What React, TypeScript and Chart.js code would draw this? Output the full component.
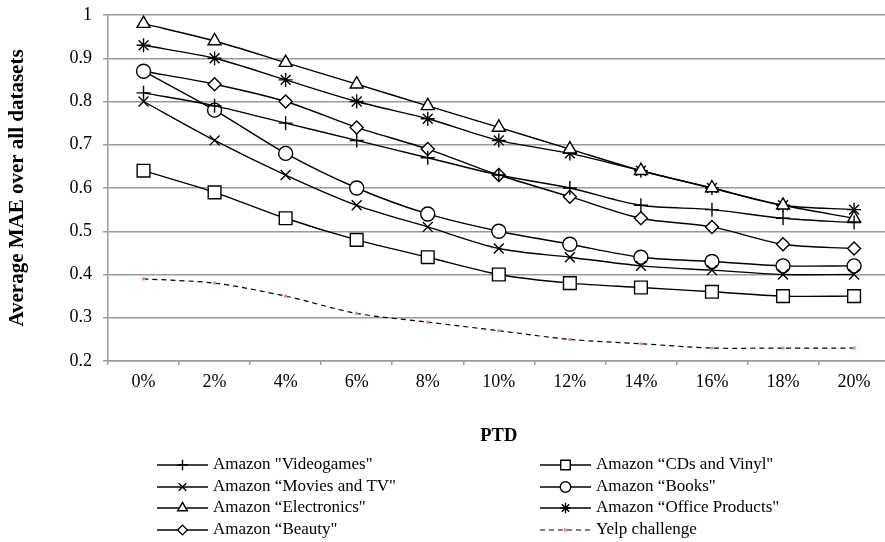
import React, { useEffect, useRef } from 'react';
import { Chart, registerables } from 'chart.js';
import { drawPoint } from 'chart.js/helpers';

Chart.register(...registerables);

const categories = ['0%', '2%', '4%', '6%', '8%', '10%', '12%', '14%', '16%', '18%', '20%'];
const videogames = [0.82, 0.79, 0.75, 0.71, 0.67, 0.63, 0.60, 0.56, 0.55, 0.53, 0.52];
const cdsVinyl = [0.64, 0.59, 0.53, 0.48, 0.44, 0.40, 0.38, 0.37, 0.36, 0.35, 0.35];
const moviesTv = [0.80, 0.71, 0.63, 0.56, 0.51, 0.46, 0.44, 0.42, 0.41, 0.40, 0.40];
const books = [0.87, 0.78, 0.68, 0.60, 0.54, 0.50, 0.47, 0.44, 0.43, 0.42, 0.42];
const electronics = [0.98, 0.94, 0.89, 0.84, 0.79, 0.74, 0.69, 0.64, 0.60, 0.56, 0.53];
const officeProducts = [0.93, 0.90, 0.85, 0.80, 0.76, 0.71, 0.68, 0.64, 0.60, 0.56, 0.55];
const beauty = [0.87, 0.84, 0.80, 0.74, 0.69, 0.63, 0.58, 0.53, 0.51, 0.47, 0.46];
const yelp = [0.39, 0.38, 0.35, 0.31, 0.29, 0.27, 0.25, 0.24, 0.23, 0.23, 0.23];

const yMin = 0.2;
const yMax = 1;
const yStep = 0.1;

const FONT = '"Liberation Serif", "Times New Roman", serif';

function amazonSeries(label: string, data: number[], pointStyle: string, radius: number) {
  return {
    label,
    data,
    borderColor: '#000',
    borderWidth: 1.4,
    pointStyle,
    pointRadius: radius,
    pointBorderColor: '#000',
    pointBackgroundColor: '#fff',
    pointBorderWidth: 1.4,
    tension: 0.3,
  };
}

const legendPlugin = {
  id: 'customLegend',
  afterDraw(chart: any) {
    const ctx = chart.ctx;
    const cols = [157, 540];
    const rows = [465, 487, 508, 530];
    ctx.save();
    chart.data.datasets.forEach((ds: any, i: number) => {
      const x0 = cols[i % 2];
      const y = rows[Math.floor(i / 2)];
      ctx.save();
      ctx.strokeStyle = '#000';
      ctx.lineWidth = ds.borderWidth;
      ctx.setLineDash(ds.borderDash || []);
      ctx.beginPath();
      ctx.moveTo(x0, y);
      ctx.lineTo(x0 + 51, y);
      ctx.stroke();
      ctx.restore();
      ctx.save();
      ctx.setLineDash([]);
      ctx.fillStyle = ds.pointBackgroundColor;
      ctx.strokeStyle = ds.pointBorderColor;
      ctx.lineWidth = ds.pointBorderWidth;
      const r = ds.borderDash ? ds.pointRadius : ds.pointRadius * 0.75;
      drawPoint(ctx, { pointStyle: ds.pointStyle, rotation: 0, borderWidth: ds.pointBorderWidth, radius: r }, x0 + 25.5, y);
      ctx.restore();
      ctx.fillStyle = '#000';
      ctx.font = '17px ' + FONT;
      ctx.textBaseline = 'middle';
      ctx.textAlign = 'left';
      ctx.fillText(ds.label, x0 + 56, y);
    });
    ctx.restore();
  },
};

export default function App() {
  const canvasRef = useRef<HTMLCanvasElement | null>(null);

  useEffect(() => {
    const canvas = canvasRef.current;
    if (!canvas) return;
    const chart = new Chart(canvas, {
      type: 'line',
      data: {
        labels: categories,
        datasets: [
          amazonSeries('Amazon "Videogames"', videogames, 'cross', 7),
          amazonSeries('Amazon \u201cCDs and Vinyl"', cdsVinyl, 'rect', 9),
          amazonSeries('Amazon \u201cMovies and TV"', moviesTv, 'crossRot', 7),
          amazonSeries('Amazon \u201cBooks"', books, 'circle', 7),
          amazonSeries('Amazon \u201cElectronics"', electronics, 'triangle', 7.5),
          amazonSeries('Amazon \u201cOffice Products"', officeProducts, 'star', 7),
          amazonSeries('Amazon \u201cBeauty"', beauty, 'rectRot', 6.5),
          {
            label: 'Yelp challenge',
            data: yelp,
            borderColor: '#000',
            borderWidth: 1.2,
            borderDash: [5, 4],
            pointStyle: 'rect',
            pointRadius: 2.2,
            pointBorderWidth: 0,
            pointBorderColor: '#d99694',
            pointBackgroundColor: '#d99694',
            tension: 0.3,
          } as any,
        ],
      },
      options: {
        animation: false,
        responsive: false,
        maintainAspectRatio: false,
        layout: { padding: { top: 15, right: 0, bottom: 91, left: 0 } },
        plugins: {
          legend: { display: false },
          tooltip: { enabled: false },
        },
        scales: {
          x: {
            type: 'category',
            offset: true,
            grid: {
              offset: true,
              drawOnChartArea: false,
              drawTicks: true,
              tickLength: 4,
              color: '#9a9a9a',
              lineWidth: 1.5,
            },
            border: { display: true, color: '#9a9a9a', width: 1.5 },
            ticks: {
              color: '#000',
              font: { family: FONT, size: 18 },
              padding: 6,
              maxRotation: 0,
            },
            title: {
              display: true,
              text: 'PTD',
              color: '#000',
              font: { family: FONT, size: 18.5, weight: 'bold' },
              padding: { top: 0, bottom: 4 },
            },
            afterFit: (scale: any) => {
              scale.height = 90;
              scale.paddingLeft = 0;
              scale.paddingRight = 0;
            },
          },
          y: {
            min: yMin,
            max: yMax,
            grid: {
              color: '#9a9a9a',
              lineWidth: 1.5,
              drawTicks: true,
              tickLength: 5,
            },
            border: { display: true, color: '#9a9a9a', width: 1.5 },
            ticks: {
              stepSize: yStep,
              color: '#000',
              font: { family: FONT, size: 18 },
              padding: 11,
              callback: (v: any) => String(Number(Number(v).toFixed(1))),
            },
            title: {
              display: true,
              text: 'Average MAE over all datasets',
              color: '#000',
              font: { family: FONT, size: 21, weight: 'bold' },
              padding: { top: 5, bottom: 0 },
            },
            afterFit: (scale: any) => {
              scale.width = 108;
              scale.paddingTop = 0;
              scale.paddingBottom = 0;
            },
          },
        },
      },
      plugins: [legendPlugin],
    });
    return () => chart.destroy();
  }, []);

  return (
    <div style={{ position: 'absolute', left: 0, top: 0, width: 885, height: 542, overflow: 'hidden', background: '#fff' }}>
      <canvas ref={canvasRef} width={900} height={542} style={{ display: 'block' }} />
    </div>
  );
}
